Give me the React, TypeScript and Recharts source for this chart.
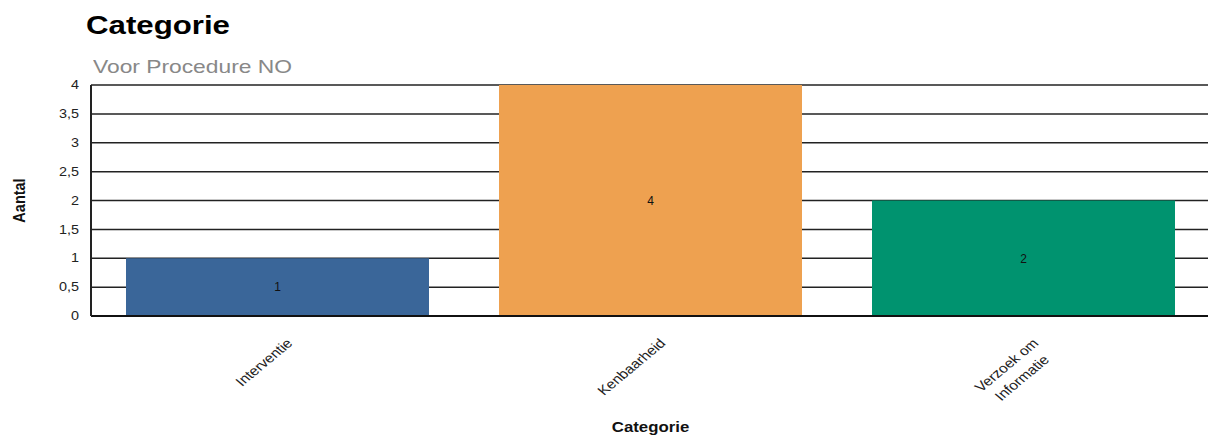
import { Bar, BarChart, CartesianGrid, Cell, Label, LabelList, XAxis, YAxis } from "recharts";

const categories = ["Interventie", "Kenbaarheid", "Verzoek om Informatie"];
const counts = [1, 4, 2];
const barColors = ["#3a6699", "#eea150", "#00936f"];
const yTicks = [0, 0.5, 1, 1.5, 2, 2.5, 3, 3.5, 4];

const chartTitle = "Categorie";
const chartSubtitle = "Voor Procedure NO";
const xAxisTitle = "Categorie";
const yAxisTitle = "Aantal";

const FONT = "Arial, 'Liberation Sans', Helvetica, sans-serif";
// the report renders its text slightly wide
const STRETCH = 1.2;
const TICK_FONT_SIZE = 13;

const data = categories.map((name, i) => ({ name, count: counts[i] }));

let measureCtx: CanvasRenderingContext2D | null = null;
function textWidth(text: string, font: string) {
  if (!measureCtx) measureCtx = document.createElement("canvas").getContext("2d");
  if (!measureCtx) return text.length * 6;
  measureCtx.font = font;
  return measureCtx.measureText(text).width;
}

function wrapLabel(text: string, maxChars: number) {
  const lines: string[] = [];
  let current = "";
  for (const word of text.split(" ")) {
    const next = current ? `${current} ${word}` : word;
    if (current && next.length > maxChars) {
      lines.push(current);
      current = word;
    } else {
      current = next;
    }
  }
  if (current) lines.push(current);
  return lines;
}

function formatCount(value: number) {
  return String(value).replace(".", ",");
}

function CategoryTick({ x, y, payload }: any) {
  const lines = wrapLabel(String(payload.value), 12);
  const font = `${TICK_FONT_SIZE}px ${FONT}`;
  const blockWidth = Math.max(...lines.map((l) => textWidth(l, font)));
  return (
    <g transform={`translate(${x + 16},${y + 28}) scale(${STRETCH},1) rotate(-45)`}>
      {lines.map((line, i) => (
        <text
          key={line}
          x={-blockWidth / 2}
          y={i * 18}
          textAnchor="middle"
          fontSize={TICK_FONT_SIZE}
          fontFamily={FONT}
          fill="#222"
        >
          {line}
        </text>
      ))}
    </g>
  );
}

function CountTick({ x, y, payload }: any) {
  return (
    <g transform={`translate(${x},${y}) scale(${STRETCH},1)`}>
      <text textAnchor="end" dy="0.35em" fontSize={12} fontFamily={FONT} fill="#222">
        {formatCount(payload.value)}
      </text>
    </g>
  );
}

export default function App() {
  return (
    <div
      style={{
        position: "fixed",
        top: 0,
        left: 0,
        width: 1208,
        height: 436,
        overflow: "hidden",
        background: "#fff",
        fontFamily: FONT,
      }}
    >
      <div
        style={{
          position: "absolute",
          left: 86,
          top: 12,
          fontSize: 26,
          lineHeight: "26px",
          fontWeight: "bold",
          color: "#000",
          whiteSpace: "nowrap",
          transform: `scaleX(${STRETCH})`,
          transformOrigin: "left top",
        }}
      >
        {chartTitle}
      </div>
      <div
        style={{
          position: "absolute",
          left: 93,
          top: 57,
          fontSize: 19,
          lineHeight: "19px",
          color: "#888",
          whiteSpace: "nowrap",
          transform: `scaleX(${STRETCH})`,
          transformOrigin: "left top",
        }}
      >
        {chartSubtitle}
      </div>
      <div style={{ position: "absolute", left: 0, top: 0 }}>
        <BarChart
          width={1211}
          height={436}
          data={data}
          margin={{ top: 85, right: 1, bottom: 0, left: 0 }}
        >
          <CartesianGrid vertical={false} stroke="#222" strokeWidth={1.5} />
          <XAxis
            dataKey="name"
            height={120}
            tickSize={0}
            tickMargin={0}
            tickLine={false}
            axisLine={{ stroke: "#111", strokeWidth: 2 }}
            tick={<CategoryTick />}
            interval={0}
          >
            <Label
              content={({ viewBox }: any) => (
                <g transform={`translate(${viewBox.x + viewBox.width / 2},${viewBox.y + 116}) scale(${STRETCH},1)`}>
                  <text textAnchor="middle" fontSize={14} fontWeight="bold" fontFamily={FONT} fill="#111">
                    {xAxisTitle}
                  </text>
                </g>
              )}
            />
          </XAxis>
          <YAxis
            width={91}
            domain={[0, 4]}
            ticks={yTicks}
            tickSize={0}
            tickMargin={12}
            tickLine={false}
            axisLine={{ stroke: "#222", strokeWidth: 2 }}
            tick={<CountTick />}
          >
            <Label
              content={({ viewBox }: any) => (
                <g transform={`translate(${viewBox.x + 19},${viewBox.y + viewBox.height / 2}) scale(${STRETCH},1) rotate(-90)`}>
                  <text textAnchor="middle" dy="0.35em" fontSize={14.5} fontWeight="bold" fontFamily={FONT} fill="#111">
                    {yAxisTitle}
                  </text>
                </g>
              )}
            />
          </YAxis>
          <Bar dataKey="count" barSize={303} isAnimationActive={false}>
            {data.map((d, i) => (
              <Cell key={d.name} fill={barColors[i]} />
            ))}
            <LabelList dataKey="count" position="center" fill="#111" fontSize={12} fontFamily={FONT} />
          </Bar>
        </BarChart>
      </div>
    </div>
  );
}
